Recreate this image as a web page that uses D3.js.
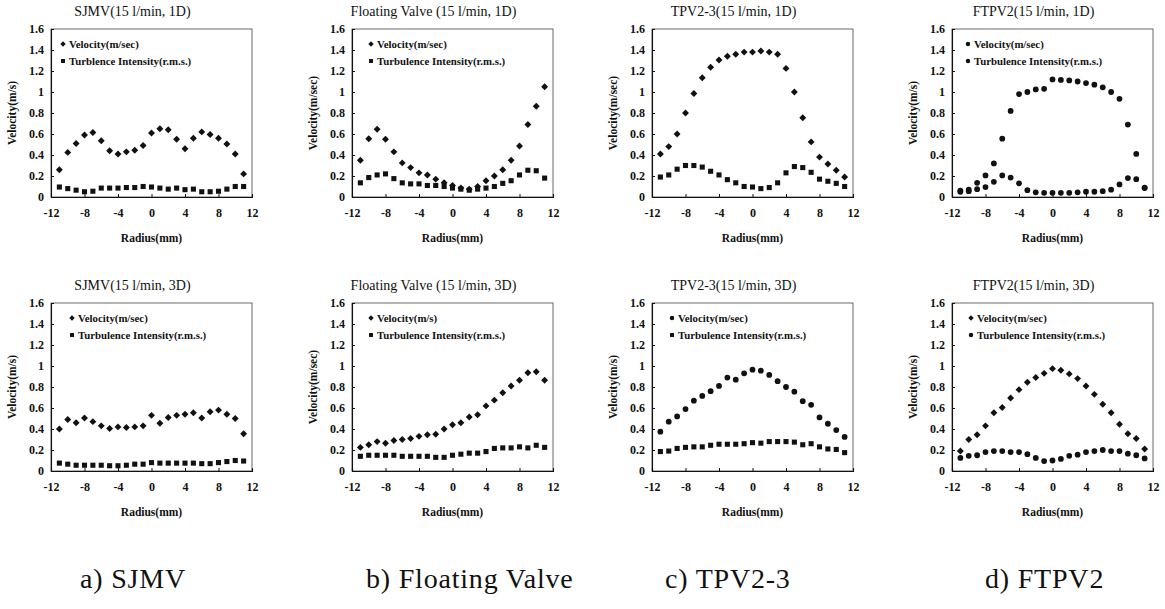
<!DOCTYPE html>
<html>
<head>
<meta charset="utf-8">
<script src="https://cdn.jsdelivr.net/npm/d3@7"></script>
<style>
  body { margin: 0; background: #fff; }
  svg text { font-family: "Liberation Serif", "Times New Roman", serif; fill: #111; }
</style>
</head>
<body>
<div id="chart"></div>
<script>
// radius positions (mm) of the measurement points
const radius = [-11, -10, -9, -8, -7, -6, -5, -4, -3, -2, -1, 0, 1, 2, 3, 4, 5, 6, 7, 8, 9, 10, 11]

const xTicks = [-12, -8, -4, 0, 4, 8, 12]
const yTicks = [0, 0.2, 0.4, 0.6, 0.8, 1, 1.2, 1.4, 1.6]
const yTickLabels = ["0", "0.2", "0.4", "0.6", "0.8", "1", "1.2", "1.4", "1.6"]

// --- 1D (upper row) ---
const sjmv1dVel = [0.26, 0.425, 0.51, 0.59, 0.615, 0.535, 0.44, 0.41, 0.43, 0.445, 0.49, 0.61, 0.65, 0.64, 0.55, 0.46, 0.56, 0.62, 0.595, 0.56, 0.505, 0.41, 0.22]
const sjmv1dTi = [0.095, 0.08, 0.065, 0.05, 0.055, 0.085, 0.085, 0.085, 0.09, 0.09, 0.1, 0.095, 0.085, 0.075, 0.085, 0.07, 0.075, 0.05, 0.05, 0.055, 0.075, 0.1, 0.1]

const fv1dVel = [0.35, 0.555, 0.645, 0.55, 0.43, 0.325, 0.28, 0.23, 0.21, 0.17, 0.135, 0.11, 0.085, 0.075, 0.1, 0.155, 0.2, 0.26, 0.35, 0.485, 0.69, 0.865, 1.05]
const fv1dTi = [0.135, 0.185, 0.21, 0.22, 0.175, 0.135, 0.125, 0.125, 0.11, 0.11, 0.1, 0.085, 0.075, 0.065, 0.075, 0.085, 0.1, 0.13, 0.155, 0.21, 0.255, 0.25, 0.18]

const tpv1dVel = [0.41, 0.48, 0.6, 0.8, 0.985, 1.135, 1.235, 1.305, 1.34, 1.36, 1.38, 1.38, 1.39, 1.38, 1.36, 1.225, 1.0, 0.755, 0.525, 0.38, 0.315, 0.255, 0.19]
const tpv1dTi = [0.19, 0.21, 0.265, 0.3, 0.3, 0.285, 0.245, 0.21, 0.165, 0.135, 0.1, 0.095, 0.08, 0.09, 0.135, 0.23, 0.29, 0.28, 0.235, 0.17, 0.15, 0.13, 0.1]

const ftpv1dVel = [0.06, 0.07, 0.135, 0.205, 0.32, 0.555, 0.82, 0.98, 1.0, 1.025, 1.03, 1.12, 1.115, 1.11, 1.1, 1.085, 1.07, 1.045, 1.0, 0.935, 0.69, 0.41, 0.09]
const ftpv1dTi = [0.05, 0.055, 0.075, 0.095, 0.145, 0.205, 0.185, 0.13, 0.065, 0.045, 0.04, 0.04, 0.04, 0.04, 0.045, 0.05, 0.05, 0.055, 0.07, 0.12, 0.18, 0.17, 0.085]

// --- 3D (lower row) ---
const sjmv3dVel = [0.4, 0.49, 0.46, 0.505, 0.47, 0.43, 0.405, 0.42, 0.415, 0.42, 0.43, 0.53, 0.455, 0.51, 0.53, 0.54, 0.555, 0.505, 0.565, 0.58, 0.54, 0.5, 0.355]
const sjmv3dTi = [0.075, 0.065, 0.055, 0.055, 0.055, 0.055, 0.05, 0.05, 0.055, 0.065, 0.065, 0.08, 0.075, 0.075, 0.075, 0.075, 0.075, 0.07, 0.07, 0.08, 0.09, 0.1, 0.095]

const fv3dVel = [0.225, 0.25, 0.28, 0.265, 0.29, 0.3, 0.31, 0.33, 0.345, 0.35, 0.4, 0.44, 0.46, 0.515, 0.535, 0.62, 0.675, 0.745, 0.81, 0.865, 0.935, 0.945, 0.865]
const fv3dTi = [0.14, 0.15, 0.15, 0.15, 0.15, 0.14, 0.14, 0.14, 0.14, 0.13, 0.13, 0.15, 0.16, 0.17, 0.17, 0.185, 0.215, 0.22, 0.22, 0.23, 0.22, 0.245, 0.225]

const tpv3dVel = [0.375, 0.47, 0.52, 0.59, 0.67, 0.715, 0.76, 0.81, 0.89, 0.87, 0.93, 0.965, 0.955, 0.915, 0.855, 0.8, 0.755, 0.665, 0.63, 0.51, 0.45, 0.39, 0.325]
const tpv3dTi = [0.185, 0.19, 0.215, 0.225, 0.23, 0.23, 0.245, 0.255, 0.255, 0.255, 0.26, 0.27, 0.265, 0.28, 0.28, 0.28, 0.275, 0.25, 0.26, 0.23, 0.21, 0.205, 0.175]

const ftpv3dVel = [0.19, 0.3, 0.345, 0.43, 0.555, 0.605, 0.695, 0.775, 0.845, 0.89, 0.93, 0.975, 0.96, 0.925, 0.88, 0.81, 0.73, 0.635, 0.555, 0.445, 0.355, 0.31, 0.21]
const ftpv3dTi = [0.125, 0.145, 0.15, 0.18, 0.19, 0.19, 0.18, 0.18, 0.16, 0.125, 0.095, 0.1, 0.115, 0.145, 0.155, 0.18, 0.19, 0.2, 0.19, 0.19, 0.165, 0.15, 0.12]

const captions = ["a) SJMV", "b) Floating Valve", "c) TPV2-3", "d) FTPV2"]

// marker kinds: "dia" = small diamond (rotated square), "sq" = square, "dot" = round dot
const panels = [
  {title: "SJMV(15 l/min, 1D)", yLabel: "Velocity(m/s)", vel: sjmv1dVel, ti: sjmv1dTi,
   legend: ["Velocity(m/sec)", "Turblence Intensity(r.m.s.)"], velSym: "dia", tiSym: "sq"},
  {title: "Floating Valve (15 l/min, 1D)", yLabel: "Velocity(m/sec)", vel: fv1dVel, ti: fv1dTi,
   legend: ["Velocity(m/sec)", "Turbulence Intensity(r.m.s.)"], velSym: "dia", tiSym: "sq"},
  {title: "TPV2-3(15 l/min, 1D)", yLabel: "Velocity(m/sec)", vel: tpv1dVel, ti: tpv1dTi,
   legend: null, velSym: "dia", tiSym: "sq"},
  {title: "FTPV2(15 l/min, 1D)", yLabel: "Velocity(m/s)", vel: ftpv1dVel, ti: ftpv1dTi,
   legend: ["Velocity(m/sec)", "Turbulence Intensity(r.m.s.)"], velSym: "dot", tiSym: "dot"},
  {title: "SJMV(15 l/min, 3D)", yLabel: "Velocity(m/s)", vel: sjmv3dVel, ti: sjmv3dTi,
   legend: ["Velocity(m/sec)", "Turbulence Intensity(r.m.s.)"], velSym: "dia", tiSym: "sq"},
  {title: "Floating Valve (15 l/min, 3D)", yLabel: "Velocity(m/sec)", vel: fv3dVel, ti: fv3dTi,
   legend: ["Velocity(m/s)", "Turbulence Intensity(r.m.s.)"], velSym: "dia", tiSym: "sq"},
  {title: "TPV2-3(15 l/min, 3D)", yLabel: "Velocity(m/s)", vel: tpv3dVel, ti: tpv3dTi,
   legend: ["Velocity(m/sec)", "Turbulence Intensity(r.m.s.)"], velSym: "dot", tiSym: "sq"},
  {title: "FTPV2(15 l/min, 3D)", yLabel: "Velocity(m/s)", vel: ftpv3dVel, ti: ftpv3dTi,
   legend: ["Velocity(m/sec)", "Turbulence Intensity(r.m.s.)"], velSym: "dia", tiSym: "dot"}
]

const W = 1165, H = 609
const plotW = 201, plotH = 168
const colLeft = [51, 352, 652, 952]
const rowTop = [29, 303]
const legendDx = [12, 19, 0, 16, 21, 19, 20, 19]
const captionDx = [29, 14, 13, 33]

const symbols = {
  dia: {type: d3.symbolSquare, size: 24, rot: 45},
  sq: {type: d3.symbolSquare, size: 26, rot: 0},
  dot: {type: d3.symbolCircle, size: 26, rot: 0}
}

const svg = d3.select("#chart").append("svg")
  .attr("width", W).attr("height", H)
svg.append("rect").attr("width", W).attr("height", H).attr("fill", "#fff")

const x = d3.scaleLinear().domain([-12, 12]).range([0, plotW])
const y = d3.scaleLinear().domain([0, 1.6]).range([plotH, 0])

function drawMarks(g, vals, kind, scale) {
  const s = symbols[kind]
  g.append("g").selectAll("path")
    .data(radius.map((r, k) => ({r: r, v: vals[k]})))
    .enter().append("path")
    .attr("transform", d => "translate(" + [x(d.r), y(d.v)] + ") rotate(" + s.rot + ")")
    .attr("d", d3.symbol().type(s.type).size(s.size * scale))
    .attr("fill", "#111")
}

panels.forEach((p, i) => {
  const col = i % 4, row = Math.floor(i / 4)
  const g = svg.append("g")
    .attr("transform", "translate(" + [colLeft[col], rowTop[row]] + ")")

  // frame
  g.append("rect")
    .attr("width", plotW).attr("height", plotH)
    .attr("fill", "none").attr("stroke", "#444").attr("stroke-width", 0.8)

  const xAxis = g.append("g")
    .attr("transform", "translate(0," + plotH + ")")
    .call(d3.axisBottom(x).tickValues(xTicks).tickSize(-3).tickPadding(11).tickFormat(d => d))
  const yAxis = g.append("g")
    .call(d3.axisLeft(y).tickValues(yTicks).tickSize(-3).tickPadding(7)
      .tickFormat((d, k) => yTickLabels[k]))

  ;[xAxis, yAxis].forEach(a => {
    a.select(".domain").attr("stroke", "#111").attr("stroke-width", 1.1)
    a.selectAll(".tick line").attr("stroke", "#111")
    a.selectAll("text").attr("font-size", 12).attr("font-weight", "bold")
      .attr("fill", "#111").style("font-family", "Liberation Serif, serif")
  })

  // title
  g.append("text")
    .attr("x", plotW / 2 - 19).attr("y", -13)
    .attr("text-anchor", "middle").attr("font-size", 14)
    .text(p.title)

  // axis labels
  g.append("text")
    .attr("x", plotW / 2).attr("y", plotH + 45)
    .attr("text-anchor", "middle").attr("font-size", 11.5).attr("font-weight", "bold")
    .text("Radius(mm)")
  g.append("text")
    .attr("transform", "translate(" + [-35, plotH / 2] + ") rotate(-90)")
    .attr("text-anchor", "middle").attr("font-size", 11.5).attr("font-weight", "bold")
    .text(p.yLabel)

  drawMarks(g, p.ti, p.tiSym, 1)
  drawMarks(g, p.vel, p.velSym, 1)

  // legend
  if (p.legend) {
    const lg = g.append("g").attr("transform", "translate(" + [legendDx[i], 15] + ")")
    const kinds = [p.velSym, p.tiSym]
    p.legend.forEach((t, k) => {
      const s = symbols[kinds[k]]
      lg.append("path")
        .attr("transform", "translate(" + [0, k * 17] + ") rotate(" + s.rot + ")")
        .attr("d", d3.symbol().type(s.type).size(s.size * 0.6)).attr("fill", "#111")
      lg.append("text").attr("x", 6).attr("y", k * 17).attr("dy", "0.35em")
        .attr("font-size", 10.8).attr("font-weight", "bold")
        .text(t)
    })
  }
})

// captions under each column
captions.forEach((c, i) => {
  svg.append("text")
    .attr("x", colLeft[i] + captionDx[i]).attr("y", 588)
    .attr("font-size", 28).attr("letter-spacing", 0.8)
    .style("font-family", "Liberation Serif, serif")
    .text(c)
})
</script>
</body>
</html>
